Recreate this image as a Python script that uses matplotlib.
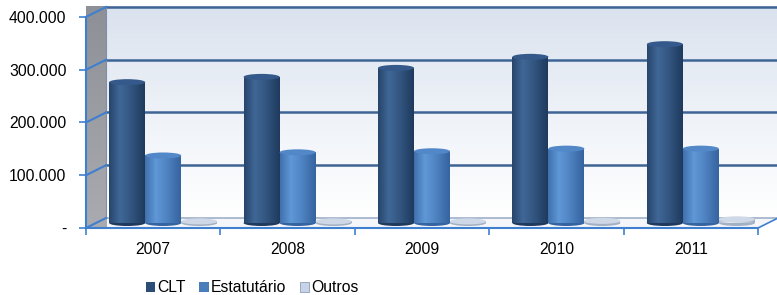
import matplotlib
matplotlib.use("Agg")
import matplotlib.pyplot as plt
import numpy as np
from matplotlib.patches import Polygon, Ellipse, Patch
from matplotlib.colors import LinearSegmentedColormap

plt.rcParams['font.family'] = ['Liberation Sans', 'DejaVu Sans']

years = ['2007', '2008', '2009', '2010', '2011']
clt = [267000, 277000, 294000, 315000, 339000]
estatutario = [128000, 134000, 136000, 141000, 141000]
outros = [3000, 3000, 3000, 4000, 7000]
series_names = ['CLT', 'Estatutário', 'Outros']
yticks = [0, 100000, 200000, 300000, 400000]

W, H = 777, 295
fig = plt.figure(figsize=(W / 100, H / 100), dpi=100)
fig.patch.set_facecolor('white')
L, R, B, T = 86, 758, 228, 17
ax = fig.add_axes([L / W, (H - B) / H, (R - L) / W, (B - T) / H])
ax.set_xlim(-0.5, 4.5)
ax.set_ylim(0, 400000)
ax.set_facecolor('none')

pxx = 5 / (R - L)          # cat units per px
pxy = 400000 / (B - T)     # value units per px
dx = 20 * pxx
dy = 10 * pxy
x0, x1 = -0.5, 4.5
ymax = 400000
axis_blue = '#3f7fcf'
grid_blue = '#3d6494'

# back wall gradient
grad = np.linspace(0, 1, 256).reshape(-1, 1)
wall_cmap = LinearSegmentedColormap.from_list('wall', ['#ffffff', '#eef2f8', '#dae2ee'])
ax.imshow(grad, cmap=wall_cmap, origin='lower', aspect='auto',
          extent=(x0 + dx, x1 + dx, dy, ymax + dy), zorder=0, clip_on=False)
# side wall
side = Polygon([(x0, 0), (x0 + dx, dy), (x0 + dx, ymax + dy), (x0, ymax)],
               closed=True, facecolor='#9a9ea6', edgecolor='none', zorder=0.5, clip_on=False)
ax.add_patch(side)
side_cmap = LinearSegmentedColormap.from_list('side', ['#a9abb0', '#8d9096'])
im2 = ax.imshow(grad, cmap=side_cmap, origin='lower', aspect='auto',
                extent=(x0, x0 + dx, 0, ymax + dy), zorder=0.6, clip_on=False)
im2.set_clip_path(side)
# floor
floor = Polygon([(x0, 0), (x1, 0), (x1 + dx, dy), (x0 + dx, dy)], closed=True,
                facecolor='#f4f6fa', edgecolor='none', zorder=0.5, clip_on=False)
ax.add_patch(floor)
ax.plot([x0 + dx, x1 + dx], [dy, dy], color='#9fb0c8', lw=1.2, zorder=1, clip_on=False)
ax.plot([x1, x1 + dx], [0, dy], color=axis_blue, lw=1.2, zorder=1, clip_on=False)

# gridlines
for v in yticks[1:]:
    ax.plot([x0 + dx, x1 + dx], [v + dy, v + dy], color=grid_blue, lw=1.8, zorder=1, clip_on=False)
for v in yticks:
    ax.plot([x0, x0 + dx], [v, v + dy], color=axis_blue, lw=1.5, zorder=1.2, clip_on=False)
ax.plot([x0 + dx, x0 + dx], [dy, ymax + dy], color='#7f8fa8', lw=0.8, zorder=1, clip_on=False)

# bars
w = 36 * pxx
base = dy / 2
shift = 10 * pxx
offsets = [-w, 0, w]
styles = [
    ('#1f3a5e', '#3f6796', '#34598a', '#2c4d75'),
    ('#3564a0', '#6097d6', '#5288c8', '#4a7ebb'),
    ('#a4b0c4', '#e6ebf3', '#cfd8e6', '#c6d3e8'),
]
xs = np.arange(len(years))
hvals = np.interp(np.linspace(0, 1, 64), [0, 0.3, 0.55, 1.0], [0.25, 1.0, 0.7, 0.0]).reshape(1, -1)
cap_h = 6 * pxy
for si, vals in enumerate([clt, estatutario, outros]):
    dark, light, capc, legc = styles[si]
    cmap = LinearSegmentedColormap.from_list('b%d' % si, [dark, light])
    bars = ax.bar(xs + offsets[si] + shift, vals, width=w, bottom=base,
                  color=legc, edgecolor='none', zorder=2)
    for rect in bars:
        bx, by = rect.get_x(), rect.get_y()
        bw, bh = rect.get_width(), rect.get_height()
        gi = ax.imshow(hvals, cmap=cmap, aspect='auto', origin='lower',
                       extent=(bx, bx + bw, by, by + bh), zorder=2.1)
        gi.set_clip_path(rect)
        ax.add_patch(Ellipse((bx + bw / 2, by), bw, cap_h, facecolor=dark,
                             edgecolor='none', zorder=1.9))
        ax.add_patch(Ellipse((bx + bw / 2, by + bh), bw, cap_h, facecolor=capc,
                             edgecolor='none', zorder=2.2))

# axes styling
for s in ['top', 'right']:
    ax.spines[s].set_visible(False)
for s in ['left', 'bottom']:
    ax.spines[s].set_color(axis_blue)
    ax.spines[s].set_linewidth(1.5)
    ax.spines[s].set_zorder(3)
ax.set_yticks(yticks)
ax.set_yticklabels(['-' if v == 0 else f'{v:,}'.replace(',', '.') for v in yticks])
ax.tick_params(axis='y', length=5, color=axis_blue, width=1.2, pad=9,
               labelsize=11.3, labelcolor='black')
ax.set_xticks(np.arange(-0.5, 5.0, 1.0))
ax.set_xticklabels([])
ax.tick_params(axis='x', which='major', length=5, color=axis_blue, width=1.2, direction='out')
ax.set_xticks(xs, minor=True)
ax.set_xticklabels(years, minor=True)
ax.tick_params(axis='x', which='minor', length=0, pad=10, labelsize=11.3)

handles = [Patch(facecolor=styles[i][3], edgecolor='#7f8fa8' if i == 2 else 'none', lw=0.5)
           for i in range(3)]
fig.legend(handles, series_names, loc='center', bbox_to_anchor=(252 / W, 1 - 288 / H),
           ncol=3, frameon=False, fontsize=11.3, handlelength=0.6, handleheight=0.6,
           handletextpad=0.1, columnspacing=0.9)

fig.savefig('out.png', dpi=100, facecolor='white')
